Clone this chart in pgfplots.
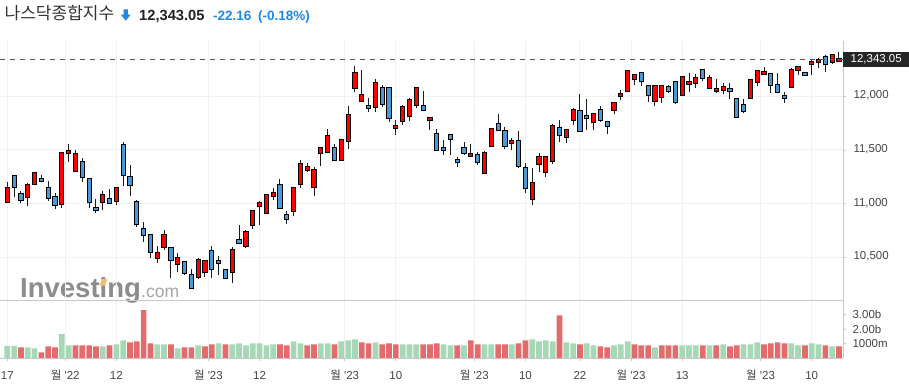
\documentclass[border=0pt]{standalone}
\usepackage{fontspec}
\setmainfont{Liberation Sans}
\newfontfamily\kr{Noto Sans CJK KR}
\newfontfamily\lsq{Liberation Sans}[Ligatures=TeXOff]
\usepackage{pgfplots}
\usepackage{pgfplotstable}
\pgfplotsset{compat=1.18}
\definecolor{candred}{RGB}{255,0,0}
\definecolor{candblue}{RGB}{74,152,216}
\definecolor{wickc}{RGB}{26,26,26}
\definecolor{volgreen}{RGB}{166,216,182}
\definecolor{volred}{RGB}{226,108,108}
\definecolor{gridc}{RGB}{241,241,241}
\definecolor{axc}{RGB}{200,200,200}
\definecolor{tickc}{RGB}{68,68,68}
\definecolor{titleblue}{RGB}{30,136,229}
\definecolor{titlegray}{RGB}{51,51,51}
\definecolor{titledark}{RGB}{34,34,34}
\definecolor{boxc}{RGB}{38,38,38}
\definecolor{dashc}{RGB}{85,85,85}
\definecolor{wmgray}{RGB}{140,140,140}
\definecolor{wmlight}{RGB}{165,165,165}
\definecolor{wmorange}{RGB}{247,190,110}

% up candles (close > open): i O H L C
\pgfplotstableread{
i O H L C
0 11014 11200 11007 11144
3 11060 11196 10980 11172
4 11181 11298 11178 11283
8 10995 11472 10964 11469
9 11469 11552 11385 11487
10 11307 11497 11305 11460
14 11014 11116 10940 11079
16 11023 11146 10986 11144
22 10494 10605 10448 10540
23 10596 10754 10571 10708
25 10438 10540 10364 10494
28 10318 10494 10299 10475
29 10364 10468 10318 10466
33 10364 10596 10262 10568
35 10605 10754 10587 10735
36 10800 10932 10763 10930
37 10977 11023 10800 11005
38 10912 11082 10903 11079
39 11070 11144 11033 11098
42 10930 11146 10884 11144
43 11181 11404 11144 11367
44 11311 11376 11292 11339
45 11153 11339 11070 11311
46 11469 11518 11348 11515
47 11478 11692 11475 11627
49 11404 11602 11400 11590
50 11580 11905 11506 11822
51 12072 12277 12035 12212
52 11952 12240 11948 12007
54 11896 12156 11850 12119
57 11701 11775 11636 11720
58 11766 11915 11729 11896
59 11812 11980 11766 11961
60 11915 12075 11887 12072
62 11775 11797 11682 11794
68 11441 11552 11438 11460
70 11283 11487 11280 11469
71 11534 11695 11525 11692
74 11562 11608 11497 11580
77 11042 11330 10986 11190
78 11367 11469 11292 11432
79 11292 11435 11246 11432
80 11395 11738 11367 11720
82 11617 11692 11562 11682
83 11775 11887 11729 11868
86 11757 11834 11682 11831
89 11868 11942 11831 11933
90 11998 12054 11961 12017
91 12045 12233 12042 12230
92 12156 12202 12100 12193
95 11952 12100 11905 12091
96 11989 12100 11935 12091
99 12007 12178 12004 12175
100 12110 12212 12035 12128
101 12119 12202 12072 12165
103 12072 12193 12063 12165
104 12045 12156 12026 12063
105 12054 12119 12017 12082
109 11980 12156 11970 12147
110 12128 12233 12091 12230
111 12202 12267 12200 12221
115 12082 12258 12072 12240
116 12240 12270 12193 12267
118 12295 12332 12193 12314
119 12314 12351 12258 12332
121 12314 12382 12295 12379
122 12325 12407 12323 12343.05
}\upc

% down candles (close < open): i O H L C
\pgfplotstableread{
i O H L C
1 11258 11262 11060 11153
2 11088 11122 11005 11033
5 11228 11265 11205 11209
6 11144 11215 11026 11051
7 11060 11098 10949 10986
11 11385 11423 11205 11246
12 11228 11230 10958 11014
13 10958 11042 10912 10940
15 11042 11135 11003 11005
17 11543 11571 11162 11265
18 11246 11358 11070 11172
19 11014 11033 10782 10810
20 10763 10828 10643 10708
21 10708 10710 10494 10550
24 10587 10590 10308 10475
26 10457 10460 10336 10355
27 10336 10392 10206 10215
30 10559 10605 10308 10392
31 10466 10513 10336 10448
32 10383 10392 10299 10308
34 10661 10800 10624 10633
40 11172 11228 10955 10958
41 10893 10930 10810 10856
48 11515 11552 11395 11404
53 11905 11980 11850 11887
55 12072 12100 11896 11924
56 12072 12075 11757 11794
61 11905 12045 11859 11868
63 11645 11692 11492 11497
64 11515 11590 11450 11497
65 11636 11645 11450 11599
66 11404 11432 11339 11385
67 11515 11571 11450 11469
69 11450 11478 11358 11385
72 11738 11831 11673 11682
73 11673 11710 11506 11534
75 11580 11673 11330 11348
76 11330 11376 11098 11144
81 11701 11775 11571 11636
84 11859 12017 11670 11673
85 11812 11970 11682 11794
87 11868 11905 11757 11775
88 11757 11760 11645 11720
93 12212 12221 12091 12137
94 12091 12094 11942 12007
97 12082 12100 12026 12045
98 12128 12137 11924 11942
102 12240 12249 12137 12165
106 12063 12119 11970 12045
107 11970 11980 11800 11803
108 11915 11970 11840 11859
112 12202 12212 12026 12100
113 12100 12212 12032 12035
114 11998 12035 11933 11980
117 12212 12221 12190 12193
120 12360 12379 12221 12295
}\downc

% volume (billions), green bars
\pgfplotstableread{
i v
0 0.84
1 0.84
3 0.75
4 0.68
8 1.65
9 0.88
14 0.81
16 0.95
17 1.22
22 0.95
23 0.95
25 0.68
28 0.88
31 1.02
33 0.95
34 1.02
35 0.88
36 1.02
37 1.02
38 0.88
39 0.95
42 1.15
43 1.02
46 1.02
47 1.02
49 1.15
50 1.22
51 1.29
54 1.09
58 0.95
59 0.95
60 0.95
64 0.95
65 0.88
67 0.88
70 0.95
71 0.95
74 0.95
77 1.29
78 1.15
79 1.22
80 1.15
82 1.09
83 1.02
85 1.02
86 0.88
89 0.88
90 0.95
91 1.15
95 0.75
99 0.88
100 0.88
101 0.88
103 0.88
105 0.95
108 0.95
109 0.95
110 1.09
115 1.02
116 0.88
118 1.02
119 0.95
121 0.81
}\volg

% volume (billions), red bars
\pgfplotstableread{
i v
2 0.75
5 0.41
6 0.81
7 0.75
10 0.88
11 0.88
12 0.88
13 0.81
15 0.88
18 1.09
19 1.15
20 3.27
21 1.02
24 0.95
26 0.75
27 0.75
29 0.81
30 0.95
32 0.95
40 0.95
41 0.88
44 0.88
45 0.95
48 0.95
52 1.09
53 1.02
55 0.95
56 1.02
57 0.95
61 0.95
62 0.95
63 1.02
66 0.88
68 1.22
69 0.95
72 0.95
73 0.95
75 1.02
76 1.22
81 2.92
84 0.95
87 0.81
88 0.75
92 0.95
93 0.88
94 0.88
96 0.88
97 0.88
98 0.88
102 0.88
104 0.88
106 0.81
107 0.88
111 0.95
112 1.02
113 1.09
114 1.02
117 0.88
120 0.88
122 0.81
}\volr

\newcommand\mw[1]{{\kr 월} {\lsq '#1}}
\pgfplotsset{candle/.style={draw=none, mark=none, forget plot,
  error bars/.cd, y dir=plus, y explicit, error mark=none}}

\begin{document}
\begin{tikzpicture}[x=1pt,y=1pt]
\useasboundingbox (0,0) rectangle (909,-391);

% watermark
\node[anchor=base west, inner sep=0, text=wmgray] at (20,-297) {\fontsize{27.5}{28}\selectfont\bfseries Investing};
\node[anchor=base west, inner sep=0, text=wmlight] at (141,-297) {\fontsize{17.5}{18}\selectfont .com};
\fill[wmorange] (99.5,-285.5) -- (105,-285.5) -- (107.5,-279) -- (102,-279) -- cycle;

% price panel
\begin{axis}[
  at={(0pt,-41pt)}, anchor=north west, scale only axis,
  width=843pt, height=259pt,
  xmin=-1.071, xmax=122.59, ymin=10106.8, ymax=12511.6,
  scaled y ticks=false, scaled x ticks=false,
  axis line style={draw=none},
  xtick={0,8.5,16,29.5,37,49.5,57,68.5,76,84,91.5,99,110.5,118},
  xticklabels={}, xtick style={draw=none},
  ytick={10500,11000,11500,12000},
  yticklabels={{10,500},{11,000},{11,500},{12,000}},
  ytick pos=right, yticklabel pos=right, tick align=outside,
  major tick length=3pt,
  ytick style={draw=axc, line width=0.8pt},
  yticklabel style={anchor=west, xshift=4pt, yshift=1pt,
    font=\fontsize{11.5}{12}\selectfont, text=tickc},
  grid=major, major grid style={draw=gridc, line width=1pt},
]
% wicks
\addplot[candle, error bar style={line width=1pt, draw=wickc}]
  table[x=i, y=L, y error plus expr={\thisrow{H}-\thisrow{L}}] {\upc};
\addplot[candle, error bar style={line width=1pt, draw=wickc}]
  table[x=i, y=L, y error plus expr={\thisrow{H}-\thisrow{L}}] {\downc};
% body outlines
\addplot[candle, error bar style={line width=5.2pt, draw=black}]
  table[x=i, y expr={\thisrow{O}-9}, y error plus expr={\thisrow{C}-\thisrow{O}+18}] {\upc};
\addplot[candle, error bar style={line width=5.2pt, draw=black}]
  table[x=i, y expr={\thisrow{C}-9}, y error plus expr={\thisrow{O}-\thisrow{C}+18}] {\downc};
% body fills
\addplot[candle, error bar style={line width=3.2pt, draw=candred}]
  table[x=i, y=O, y error plus expr={\thisrow{C}-\thisrow{O}}] {\upc};
\addplot[candle, error bar style={line width=3.2pt, draw=candblue}]
  table[x=i, y=C, y error plus expr={\thisrow{O}-\thisrow{C}}] {\downc};
% last price line
\addplot[draw=dashc, line width=1pt, dash pattern=on 5pt off 5pt, mark=none]
  coordinates {(-1.0,12343.05) (122.6,12343.05)};
\end{axis}

% volume panel
\begin{axis}[
  at={(0pt,-300pt)}, anchor=north west, scale only axis,
  width=843pt, height=58.3pt,
  xmin=-1.071, xmax=122.59, ymin=0, ymax=3.966,
  scaled y ticks=false, scaled x ticks=false,
  axis line style={draw=none},
  xtick={0,8.5,16,29.5,37,49.5,57,68.5,76,84,91.5,99,110.5,118},
  xticklabels={17,\mw{22},12,\mw{23},12,\mw{23},10,\mw{23},10,22,\mw{23},13,\mw{23},10},
  xtick pos=bottom, xticklabel pos=bottom,
  ytick={1,2,3}, yticklabels={1000m,2.00b,3.00b},
  ytick pos=right, yticklabel pos=right, tick align=outside,
  major tick length=3pt,
  tick style={draw=axc, line width=0.8pt},
  xmajorgrids, major grid style={draw=gridc, line width=1pt},
  xticklabel style={anchor=base, yshift=-18.2pt,
    font=\fontsize{11.5}{12}\selectfont, text=tickc},
  yticklabel style={anchor=west, xshift=3pt,
    font=\fontsize{11.5}{12}\selectfont, text=tickc},
]
\addplot[ybar, bar width=5.7pt, bar shift=0pt, fill=volgreen, draw=none]
  table[x=i, y=v] {\volg};
\addplot[ybar, bar width=5.7pt, bar shift=0pt, fill=volred, draw=none]
  table[x=i, y=v] {\volr};
\end{axis}

% panel frame lines
\draw[axc, line width=1pt] (0,-300) -- (843,-300);
\draw[axc, line width=1pt] (0,-358.3) -- (843,-358.3);
\draw[axc, line width=1pt] (843,-41) -- (843,-358.3);

% last price box
\node[anchor=west, fill=boxc, text=white, minimum height=15pt, minimum width=66pt,
  inner xsep=6pt, inner ysep=0pt, font=\fontsize{11.5}{12}\selectfont]
  at (843,-59.2) {12,343.05};

% title
\node[anchor=base west, inner sep=0, text=titlegray] at (4.5,-19.3)
  {\kr\fontsize{17}{17}\selectfont 나스닥종합지수};
\fill[titleblue] (123.6,-9.3) -- (127.9,-9.3) -- (127.9,-14.6) -- (130.7,-14.6)
  -- (125.75,-20.7) -- (120.8,-14.6) -- (123.6,-14.6) -- cycle;
\node[anchor=base west, inner sep=0, text=titledark] at (139,-20.7)
  {\fontsize{14.7}{15}\selectfont\bfseries 12,343.05};
\node[anchor=base west, inner sep=0, text=titleblue] at (213,-20.7)
  {\fontsize{13.5}{14}\selectfont\bfseries -22.16};
\node[anchor=base west, inner sep=0, text=titleblue] at (258,-20.7)
  {\fontsize{13.5}{14}\selectfont\bfseries (-0.18\%)};
\end{tikzpicture}
\end{document}
